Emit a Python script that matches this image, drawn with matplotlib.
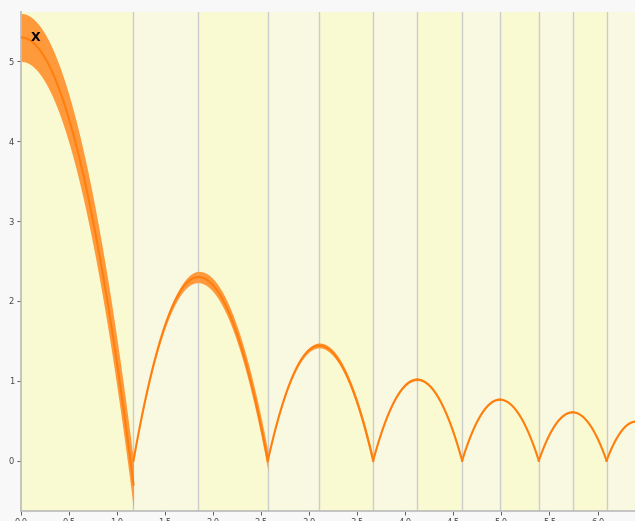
import matplotlib
matplotlib.use("Agg")
import matplotlib.pyplot as plt
import numpy as np

# bounce ball trajectory
bounce_x = [1.171, 2.569, 3.665, 4.591, 5.389, 6.094]
apex_x = [0.0, 1.846, 3.104, 4.123, 4.983, 5.740, 6.400]
apex_y = [5.30, 2.30, 1.443, 1.016, 0.765, 0.606, 0.49]
end_y = [-0.30, 0.0, 0.0, 0.0, 0.0, 0.0]
spread_apex = [0.30, 0.07, 0.03, 0.012, 0.006, 0.004, 0.003]
spread_end = [0.30, 0.12, 0.05, 0.02, 0.01, 0.008]
x_max = 6.39
y_min, y_max = -0.63, 5.62

fig = plt.figure(figsize=(6.35, 5.21), dpi=100)
fig.patch.set_facecolor("#f8f8f8")
ax = fig.add_axes([0.033, 0.0192, 0.967, 0.958])

# background bands (falling = yellow, rising = pale)
edges = [0.0]
for i in range(len(bounce_x)):
    edges.append(bounce_x[i])
    if i + 1 < len(apex_x) and apex_x[i + 1] < x_max:
        edges.append(apex_x[i + 1])
edges.append(x_max)
for k in range(len(edges) - 1):
    c = "#fafad2" if k % 2 == 0 else "#f9f9e1"
    ax.axvspan(edges[k], edges[k + 1], color=c, lw=0, zorder=0)
for e in edges[1:-1]:
    ax.axvline(e, color="#cccccc", lw=1, zorder=1)

orange = "#ff7f0e"
band = "#ff9a3c"


def draw(xs, ys, sp):
    ax.fill_between(xs, ys - sp, ys + sp, color=band, lw=0, zorder=2)
    ax.plot(xs, ys, color=orange, lw=1.5, zorder=3)


# falling halves
for i in range(len(bounce_x)):
    xa, xb = apex_x[i], bounce_x[i]
    xs = np.linspace(xa, xb, 120)
    t = (xs - xa) / (xb - xa)
    ys = apex_y[i] - (apex_y[i] - end_y[i]) * t ** 2
    sp = spread_apex[i] + (spread_end[i] - spread_apex[i]) * t
    draw(xs, ys, sp)

# rising halves
for i in range(1, len(apex_x)):
    xb, xa = bounce_x[i - 1], apex_x[i]
    xs = np.linspace(xb, min(xa, x_max), 120)
    t = (xs - xa) / (xa - xb)
    ys = apex_y[i] * (1 - t ** 2)
    sp = spread_apex[i] * (1 + t) + 0.002
    draw(xs, ys, sp)

ax.text(0.15, 5.30, "X", fontsize=9, fontweight="bold", ha="center",
        va="center", color="black", zorder=4)

ax.set_xlim(0, x_max)
ax.set_ylim(y_min, y_max)
ax.set_xticks(np.arange(0, 6.01, 0.5))
ax.set_xticklabels([f"{v:.1f}" for v in np.arange(0, 6.01, 0.5)])
ax.set_yticks([0, 1, 2, 3, 4, 5])
ax.tick_params(labelsize=6, colors="#444444", length=3, width=0.6, pad=2)
for s in ["top", "right"]:
    ax.spines[s].set_visible(False)
for s in ["left", "bottom"]:
    ax.spines[s].set_color("#bbbbbb")
    ax.spines[s].set_linewidth(1.2)

fig.savefig("out.png", dpi=100)
